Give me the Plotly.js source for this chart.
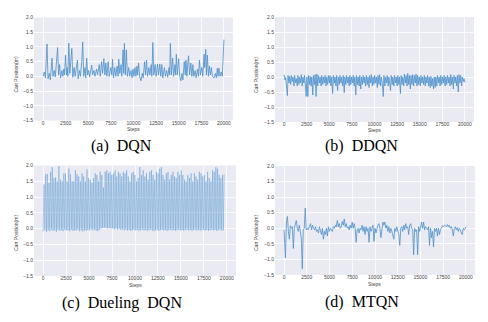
<!DOCTYPE html>
<html>
<head>
<meta charset="utf-8">
<script src="https://cdn.plot.ly/plotly-3.0.1.min.js"></script>
<style>html,body{margin:0;padding:0;background:#fff;}#chart{width:488px;height:322px;}</style>
</head>
<body>
<div id="chart"></div>
<script>
// ---- Data ----
const panelCaptions = ["(a)\u00a0\u00a0DQN", "(b)\u00a0\u00a0DDQN", "(c)\u00a0\u00a0Dueling\u00a0\u00a0DQN", "(d)\u00a0\u00a0MTQN"];
const xTickVals = [0, 2500, 5000, 7500, 10000, 12500, 15000, 17500, 20000];
const yTickVals = [-1.5, -1.0, -0.5, 0.0, 0.5, 1.0, 1.5, 2.0];

const dqnSteps = [0,146,256,439,548,695,804,987,1097,1243,1353,1609,1718,1828,1938,2084,2194,2303,2376,2486,
2596,2669,2742,2852,2961,3181,3290,3437,3546,3693,3802,3875,4022,4131,4278,4387,4497,4643,4716,4826,
4936,5045,5155,5374,5484,5630,5740,5923,6032,6215,6325,6471,6581,6727,6837,6946,7056,7202,7312,7495,
7605,7678,7787,7934,8043,8190,8299,8372,8482,8628,8701,8848,8921,8994,9103,9213,9323,9469,9579,9725,
9835,9944,10054,10164,10273,10383,10456,10566,10676,10822,10968,11078,11224,11334,11443,11553,11699,11809,11955,12028,
12138,12247,12394,12503,12650,12760,12906,13015,13125,13235,13418,13527,13673,13783,13929,14002,14076,14185,14332,14441,
14587,14661,14734,14844,14990,15099,15246,15355,15465,15611,15721,15794,15904,16013,16086,16196,16342,16452,16562,16671,
16818,16927,17074,17183,17293,17402,17549,17658,17805,17878,17988,18061,18171,18280,18390,18500,18609,18719,18902,19048,
19158,19267,19341,19450,19560,19706,19816,20000];
const dqnPos = [0.0,0.15,-0.05,1.10,-0.08,0.1,-0.12,0.62,0.0,0.2,-0.02,0.98,0.05,0.4,-0.05,0.2,0.0,0.25,0.05,0.72,
0.05,0.3,0.0,1.13,0.1,0.95,-0.03,0.3,0.0,0.35,0.55,-0.08,0.2,0.0,0.5,1.17,0.0,0.3,-0.05,0.62,
0.05,0.2,-0.02,0.38,0.05,0.2,0.0,0.25,0.05,0.4,0.0,0.5,0.1,0.6,0.05,0.45,0.0,0.5,0.0,0.3,
0.05,0.58,-0.05,0.3,0.0,0.35,0.0,0.58,0.1,0.4,0.0,0.9,0.1,1.12,0.05,0.9,0.0,0.3,0.0,0.2,
-0.05,0.25,0.0,0.3,0.0,0.35,0.05,0.45,0.0,-0.15,0.1,-0.05,0.5,0.05,0.55,0.0,0.3,0.05,0.4,0.0,
1.15,0.05,0.4,0.0,0.42,0.05,0.42,0.0,0.4,-0.05,0.3,0.0,0.2,-0.03,0.3,0.05,1.12,0.05,0.62,0.0,
0.4,0.05,0.75,0.05,0.6,0.0,-0.15,0.1,-0.12,0.5,0.05,0.55,0.0,0.5,0.7,0.05,0.45,0.0,0.4,0.0,
0.2,-0.05,0.25,0.0,0.55,0.05,0.3,0.0,0.75,0.3,0.92,0.05,0.72,0.0,0.35,0.05,0.3,0.0,-0.05,0.1,
-0.05,0.27,0.0,0.28,0.0,0.15,0.0,1.25];

const ddqnSteps = [0,110,183,256,366,439,548,622,731,804,914,987,1097,1170,1280,1353,1462,1536,1645,1718,
1828,1901,2011,2084,2194,2267,2376,2450,2523,2632,2705,2815,2888,2998,3071,3181,3254,3364,3437,3546,
3619,3729,3802,3912,3985,4095,4168,4278,4351,4460,4533,4643,4716,4826,4899,5009,5082,5192,5265,5374,
5447,5557,5630,5740,5813,5923,5996,6106,6179,6288,6361,6471,6544,6654,6727,6837,6910,7020,7093,7202,
7275,7385,7458,7568,7641,7751,7824,7934,8007,8116,8189,8299,8372,8482,8555,8665,8738,8848,8921,9030,
9103,9213,9286,9396,9469,9579,9652,9762,9835,9944,10017,10127,10200,10310,10383,10493,10566,10676,10749,10858,
10968,11041,11151,11224,11334,11407,11516,11590,11699,11772,11845,11955,12028,12138,12211,12321,12394,12504,12577,12686,
12759,12869,12942,13052,13125,13235,13308,13418,13491,13600,13673,13783,13856,13966,14039,14149,14222,14332,14405,14514,
14587,14697,14770,14880,14953,15063,15136,15246,15319,15428,15501,15611,15684,15794,15867,15977,16050,16160,16233,16342,
16415,16525,16598,16708,16781,16891,16964,17074,17147,17256,17329,17439,17512,17622,17695,17805,17878,17988,18061,18170,
18243,18353,18426,18536,18609,18719,18792,18902,18975,19084,19157,19267,19340,19450,19523,19633,19706,19816,19889,20000];
const ddqnPos = [0.08,-0.1,-0.02,-0.3,-0.62,0.05,-0.2,0.02,-0.25,0.05,-0.15,0.0,-0.3,0.05,-0.2,-0.05,-0.3,0.05,-0.25,0.0,
-0.2,0.08,-0.3,0.0,-0.2,0.05,-0.35,-0.65,0.0,-0.65,0.05,-0.25,0.02,-0.3,0.0,-0.6,0.05,-0.25,0.08,-0.65,
0.1,-0.3,0.05,-0.2,0.0,-0.3,0.05,-0.25,0.0,-0.2,0.05,-0.3,0.0,-0.25,0.05,-0.2,0.05,-0.3,0.0,-0.55,
0.05,-0.2,0.0,-0.3,0.05,-0.45,0.0,-0.25,0.05,-0.2,0.0,-0.3,0.05,-0.52,0.0,-0.25,0.05,-0.2,0.0,-0.3,
0.05,-0.25,0.0,-0.2,0.05,-0.3,0.0,-0.6,0.05,-0.25,0.0,-0.3,0.05,-0.4,0.0,-0.25,0.05,-0.2,0.0,-0.3,
0.05,-0.25,0.0,-0.35,0.05,-0.2,0.08,-0.3,0.0,-0.25,0.05,-0.2,0.0,-0.35,0.05,-0.25,0.08,-0.3,0.0,-0.2,
-0.65,0.05,-0.3,0.0,-0.2,0.05,-0.3,0.0,-0.25,-0.45,0.05,-0.25,0.0,-0.3,0.05,-0.2,0.0,-0.3,0.05,-0.25,
0.0,-0.55,0.05,-0.25,0.0,-0.3,0.1,-0.2,0.05,-0.3,0.12,-0.25,0.05,-0.4,0.05,-0.25,0.08,-0.3,0.05,-0.2,
0.1,-0.3,0.05,-0.25,0.0,-0.3,0.05,-0.2,0.0,-0.25,0.05,-0.3,0.0,-0.2,0.05,-0.3,0.0,-0.35,0.02,-0.3,
-0.05,-0.4,0.0,-0.35,0.0,-0.3,0.05,-0.2,0.0,-0.3,0.05,-0.25,0.0,-0.2,0.05,-0.3,0.0,-0.25,0.05,-0.2,
0.0,-0.3,0.08,-0.25,0.0,-0.4,0.05,-0.2,0.0,-0.3,0.05,-0.5,0.08,-0.2,0.05,-0.3,0.0,-0.15,-0.05,-0.18];

const duelSteps = [0,90,180,270,360,450,540,630,720,810,900,990,1080,1170,1260,1350,1440,1530,1620,1710,
1800,1890,1980,2070,2160,2250,2340,2430,2520,2610,2700,2790,2880,2970,3060,3150,3240,3330,3420,3510,
3600,3690,3780,3870,3960,4050,4140,4230,4320,4410,4500,4590,4680,4770,4860,4950,5040,5130,5220,5310,
5400,5490,5580,5670,5760,5850,5940,6030,6120,6210,6300,6390,6480,6570,6660,6750,6840,6930,7020,7110,
7200,7290,7380,7470,7560,7650,7740,7830,7920,8010,8100,8190,8280,8370,8460,8550,8640,8730,8820,8910,
9000,9090,9180,9270,9360,9450,9540,9630,9720,9810,9900,9990,10080,10170,10260,10350,10440,10530,10620,10710,
10800,10890,10980,11070,11160,11250,11340,11430,11520,11610,11700,11790,11880,11970,12060,12150,12240,12330,12420,12510,
12600,12690,12780,12870,12960,13050,13140,13230,13320,13410,13500,13590,13680,13770,13860,13950,14040,14130,14220,14310,
14400,14490,14580,14670,14760,14850,14940,15030,15120,15210,15300,15390,15480,15570,15660,15750,15840,15930,16020,16110,
16200,16290,16380,16470,16560,16650,16740,16830,16920,17010,17100,17190,17280,17370,17460,17550,17640,17730,17820,17910,
18000,18090,18180,18270,18360,18450,18540,18630,18720,18810,18900,18990,19080,19170,19260,19350,19440,19530,19620,19710];
const duelPos = [-0.1,1.4,-0.05,1.72,-0.1,1.73,-0.05,1.45,-0.08,1.8,-0.03,1.95,-0.07,1.6,-0.05,1.62,-0.1,1.5,-0.04,1.98,
-0.06,1.55,-0.05,1.5,-0.08,1.75,-0.03,1.75,-0.06,1.5,-0.05,1.9,-0.08,1.72,-0.04,1.5,-0.07,1.5,-0.05,1.85,
-0.06,1.72,-0.03,1.65,-0.08,1.5,-0.05,1.75,-0.09,1.65,-0.05,1.5,-0.07,1.88,-0.04,1.6,-0.06,1.55,-0.02,1.45,
-0.05,1.6,-0.03,1.75,-0.06,1.7,-0.08,1.5,-0.04,1.8,0.0,1.7,0.02,1.3,0.03,1.8,0.02,1.85,0.0,1.75,
0.02,1.8,0.0,1.7,0.01,1.75,-0.02,1.85,0.0,1.65,-0.03,1.8,0.0,1.75,-0.04,1.65,-0.02,1.8,-0.05,1.75,
-0.03,1.85,-0.06,1.65,-0.04,1.5,-0.07,1.75,-0.05,1.8,-0.03,1.7,-0.06,1.5,-0.04,1.6,-0.07,1.95,-0.05,1.7,
-0.03,1.85,-0.06,1.65,-0.04,1.75,-0.07,1.55,-0.05,1.8,-0.03,1.85,-0.06,1.7,-0.08,1.55,-0.05,1.8,-0.04,1.75,
-0.07,1.9,-0.05,1.95,-0.03,1.7,-0.06,1.55,-0.04,1.75,-0.07,1.8,-0.05,1.55,-0.03,1.7,-0.06,1.8,-0.04,1.65,
-0.07,1.6,-0.05,1.8,-0.03,1.7,-0.06,1.85,-0.04,1.7,-0.07,1.55,-0.05,1.5,-0.03,1.7,-0.06,1.6,-0.04,1.75,
-0.07,1.5,-0.05,1.75,-0.03,1.65,-0.06,1.55,-0.04,1.8,-0.07,1.75,-0.05,1.65,-0.03,1.7,-0.06,1.5,-0.04,1.8,
-0.07,1.6,-0.05,1.5,-0.03,1.85,-0.06,1.8,-0.04,1.95,-0.07,1.9,-0.05,1.7,-0.03,1.6,-0.06,1.7,-0.05,1.72];

const mtqnSteps = [0,145,255,364,473,582,691,800,909,1018,1127,1236,1345,1454,1563,1673,1782,1891,2000,2109,
2218,2327,2436,2545,2654,2800,2909,3018,3127,3236,3345,3454,3563,3672,3781,3891,4000,4109,4218,4327,
4436,4545,4654,4763,4872,4981,5090,5199,5309,5418,5527,5636,5745,5854,5963,6072,6181,6290,6399,6508,
6618,6727,6836,6945,7054,7163,7272,7381,7490,7599,7708,7817,7926,8036,8145,8254,8363,8472,8581,8690,
8799,8908,9017,9126,9235,9345,9454,9563,9672,9781,9890,9999,10108,10217,10326,10435,10544,10653,10763,10872,
10981,11090,11199,11308,11417,11526,11635,11744,11853,11962,12072,12181,12290,12399,12508,12617,12726,12835,12944,13053,
13162,13271,13380,13490,13599,13708,13817,13926,14035,14144,14253,14362,14471,14580,14689,14798,14908,15017,15126,15235,
15344,15453,15562,15671,15780,15889,15998,16107,16216,16326,16435,16544,16653,16762,16871,16980,17089,17198,17307,17416,
17525,17635,17744,17853,17962,18071,18180,18289,18398,18507,18616,18725,18834,18943,19053,19162,19271,19380,19489,19598,
19707,19816,19925,20000];
const mtqnPos = [-0.05,-0.95,0.2,0.38,-0.1,-0.35,0.08,0.0,0.05,-0.65,0.0,0.15,0.25,0.0,-0.1,0.1,-0.1,-0.3,-1.3,-0.05,
0.0,0.65,-0.05,0.0,-0.05,0.1,0.15,-0.05,0.1,0.0,-0.05,0.05,-0.1,-0.05,-0.15,0.05,-0.1,-0.2,0.0,-0.35,
-0.1,-0.2,0.0,-0.25,0.05,-0.1,0.0,-0.05,-0.1,0.05,0.0,0.1,0.05,0.25,0.05,0.15,0.0,0.05,0.22,0.1,
0.3,0.05,0.15,0.0,0.05,-0.05,0.1,0.0,0.2,0.0,0.15,0.0,-0.45,-0.05,0.0,-0.15,0.0,-0.05,0.1,-0.1,
0.05,-0.2,0.05,-0.1,0.0,-0.45,0.05,-0.1,0.0,0.1,-0.42,0.0,-0.15,0.0,0.1,0.15,0.0,-0.3,0.05,0.2,
0.1,0.2,0.0,0.1,-0.1,0.05,-0.15,0.0,-0.1,-0.2,-0.35,0.0,-0.1,0.05,-0.05,-0.2,-0.55,0.0,0.05,-0.1,
0.1,-0.05,0.15,0.0,0.05,-0.2,0.1,0.15,0.0,-0.05,-0.85,0.0,-0.1,-0.05,-0.85,0.05,-0.1,0.1,0.2,0.0,
0.2,-0.05,0.05,0.0,-0.05,0.05,-0.55,0.0,-0.3,-0.1,-0.6,0.0,-0.1,0.0,-0.25,0.0,-0.2,-0.05,0.05,0.08,
0.05,0.1,0.08,0.05,0.12,0.05,0.1,0.0,0.05,-0.05,-0.25,0.0,0.05,-0.05,0.02,-0.1,0.0,-0.05,-0.15,-0.2,
0.0,-0.05,0.0,0.05];

// ---- Chart ----
const lineColors = ['#4a8fcc', '#4a8fcc', '#5b9bd3', '#4a8fcc'];
const lineWidths = [0.8, 0.8, 0.45, 0.8];
const stepsList = [dqnSteps, ddqnSteps, duelSteps, mtqnSteps];
const posList = [dqnPos, ddqnPos, duelPos, mtqnPos];
const traces = stepsList.map((s, i) => ({
  x: s, y: posList[i], type: 'scatter', mode: 'lines',
  line: {color: lineColors[i], width: lineWidths[i]},
  xaxis: i === 0 ? 'x' : 'x' + (i + 1),
  yaxis: i === 0 ? 'y' : 'y' + (i + 1),
  hoverinfo: 'skip', showlegend: false
}));

const W = 488, H = 322;
// plot boxes in pixels [left, right, top, bottom]
const boxes = [[34, 233, 17.5, 120.5], [275, 474, 17, 122], [34, 236, 165.5, 276], [275, 475, 166, 275]];
const tickFont = {family: 'Liberation Sans, Arial, sans-serif', size: 5, color: '#444'};
const layout = {
  width: W, height: H,
  margin: {l: 0, r: 0, t: 0, b: 0},
  paper_bgcolor: '#ffffff',
  showlegend: false,
  annotations: []
};
boxes.forEach((b, i) => {
  const xa = i === 0 ? 'xaxis' : 'xaxis' + (i + 1);
  const ya = i === 0 ? 'yaxis' : 'yaxis' + (i + 1);
  const yid = i === 0 ? 'y' : 'y' + (i + 1);
  const xid = i === 0 ? 'x' : 'x' + (i + 1);
  layout[xa] = {
    domain: [b[0] / W, b[1] / W], anchor: yid, range: [-1000, 21000],
    tickvals: xTickVals, ticktext: xTickVals.map(String), ticks: '',
    showgrid: true, gridcolor: '#ffffff', gridwidth: 0.8, zeroline: false, showline: false,
    tickfont: tickFont, ticklabelstandoff: -2
  };
  layout[ya] = {
    domain: [1 - b[3] / H, 1 - b[2] / H], anchor: xid, range: [-1.5, 2.0],
    tickvals: yTickVals, ticktext: yTickVals.map(v => (v < 0 ? '\u2212' : '') + Math.abs(v).toFixed(1)), ticks: '',
    showgrid: true, gridcolor: '#ffffff', gridwidth: 0.8, zeroline: false, showline: false,
    tickfont: tickFont, ticklabelstandoff: 0
  };
});
layout.shapes = boxes.map((b, i) => ({
  type: 'rect', xref: 'paper', yref: 'paper', layer: 'below',
  x0: b[0] / W, x1: b[1] / W, y0: 1 - b[3] / H, y1: 1 - b[2] / H,
  fillcolor: '#EAEAF2', line: {width: 0}
}));
const capPos = [[121, 146], [361, 146], [122, 302.5], [362, 302]];
const stepsTitlePos = [[133, 129], [374, 130], [135, 285], [374, 284]];
const yTitlePos = [[15.5, 75], [256, 75], [16, 233], [256, 233]];
const titleFont = {family: 'Liberation Sans, Arial, sans-serif', size: 5, color: '#444'};
for (let i = 0; i < 4; i++) {
  layout.annotations.push({
    text: panelCaptions[i], xref: 'paper', yref: 'paper',
    x: capPos[i][0] / W, y: 1 - capPos[i][1] / H, xanchor: 'center', yanchor: 'middle',
    showarrow: false, font: {family: 'Liberation Serif, Times New Roman, serif', size: 16, color: '#000'}
  });
  layout.annotations.push({
    text: 'Steps', xref: 'paper', yref: 'paper',
    x: stepsTitlePos[i][0] / W, y: 1 - stepsTitlePos[i][1] / H, xanchor: 'center', yanchor: 'middle',
    showarrow: false, font: titleFont, borderpad: 0
  });
  layout.annotations.push({
    text: 'Cart Position(m)', xref: 'paper', yref: 'paper', textangle: -90,
    x: yTitlePos[i][0] / W, y: 1 - yTitlePos[i][1] / H, xanchor: 'center', yanchor: 'middle',
    showarrow: false, font: titleFont, borderpad: 0
  });
}
Plotly.newPlot('chart', traces, layout, {staticPlot: true, displayModeBar: false});
</script>
</body>
</html>
